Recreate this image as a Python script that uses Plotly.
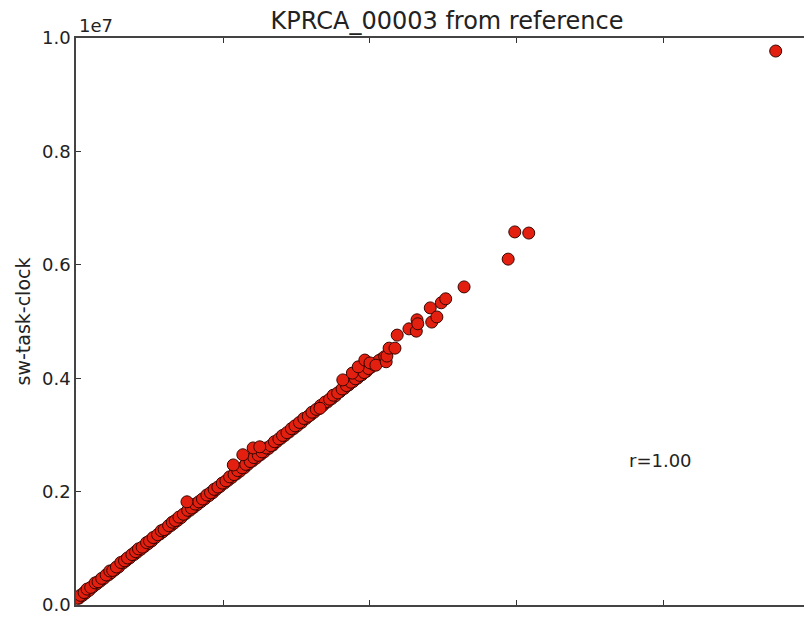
import plotly.graph_objects as go

# values in units of 1e6 (axis shows 1e7 offset)
x_vals = [0.02, 0.06, 0.11, 0.15, 0.20, 0.26, 0.30, 0.35, 0.41, 0.46, 0.50, 0.55, 0.61, 0.66, 0.70,
          0.76, 0.81, 0.85, 0.90, 0.96, 1.00, 1.05, 1.11, 1.16, 1.20, 1.26, 1.31, 1.35, 1.40, 1.46,
          1.52, 1.57, 1.62, 1.67, 1.72, 1.78, 1.83, 1.88, 1.93, 1.99, 2.04, 2.09, 2.15, 2.20, 2.26,
          2.31, 2.37, 2.42, 2.48, 2.53, 2.59, 2.65, 2.70, 2.76, 2.81, 2.87, 2.93, 2.98, 3.04, 3.10,
          3.16, 3.21, 3.27, 3.33, 3.39, 3.45, 3.50, 3.56, 3.62, 3.68, 3.74, 3.80, 3.86, 3.92, 3.98,
          4.05, 4.12, 4.20,
          1.51, 2.14, 2.27, 2.41, 2.50, 3.32, 3.63, 3.76, 3.84, 3.93, 4.00, 4.08,
          4.22, 4.23, 4.26, 4.34, 4.37, 4.53, 4.63, 4.64, 4.65, 4.82, 4.84, 4.91, 4.97, 5.03, 5.28,
          5.88, 5.97, 6.16, 9.52]
y_vals = [0.12, 0.17, 0.22, 0.28, 0.31, 0.39, 0.41, 0.47, 0.53, 0.60, 0.61, 0.67, 0.75, 0.78, 0.83,
          0.89, 0.94, 0.99, 1.02, 1.10, 1.13, 1.19, 1.24, 1.31, 1.33, 1.40, 1.46, 1.49, 1.55, 1.60,
          1.67, 1.71, 1.78, 1.82, 1.87, 1.94, 1.98, 2.04, 2.08, 2.15, 2.19, 2.26, 2.30, 2.37, 2.42,
          2.48, 2.53, 2.60, 2.64, 2.70, 2.77, 2.81, 2.88, 2.93, 2.99, 3.04, 3.11, 3.16, 3.22, 3.29,
          3.33, 3.40, 3.45, 3.52, 3.58, 3.63, 3.70, 3.74, 3.81, 3.87, 3.93, 3.99, 4.05, 4.10, 4.17,
          4.24, 4.31, 4.38,
          1.82, 2.47, 2.65, 2.77, 2.79, 3.47, 3.97, 4.09, 4.20, 4.32, 4.27, 4.23,
          4.29, 4.39, 4.53, 4.53, 4.76, 4.87, 4.83, 5.03, 4.96, 5.24, 4.99, 5.08, 5.33, 5.40, 5.61,
          6.10, 6.58, 6.56, 9.77]

# additional dense points slightly below the main band
x_dense = [0.04, 0.09, 0.13, 0.18, 0.23, 0.28, 0.33, 0.38, 0.44, 0.48,
           0.53, 0.58, 0.64, 0.68, 0.73, 0.79, 0.83, 0.88, 0.93, 0.98,
           1.03, 1.08, 1.14, 1.18, 1.23, 1.29, 1.33, 1.38, 1.43, 1.49,
           1.55, 1.60, 1.65, 1.70, 1.75, 1.81, 1.86, 1.91, 1.96, 2.02,
           2.07, 2.12, 2.18, 2.23, 2.29, 2.34, 2.40, 2.45, 2.51, 2.56,
           2.62, 2.68, 2.73, 2.79, 2.84, 2.90, 2.96, 3.01, 3.07, 3.13,
           3.19, 3.24, 3.30, 3.36, 3.42, 3.48, 3.53, 3.59, 3.65, 3.71,
           3.77, 3.83, 3.89, 3.95, 4.01, 4.09, 4.16]
y_dense = [0.12, 0.17, 0.21, 0.26, 0.32, 0.37, 0.42, 0.47, 0.53, 0.57,
           0.62, 0.67, 0.74, 0.78, 0.83, 0.89, 0.93, 0.98, 1.03, 1.08,
           1.13, 1.19, 1.25, 1.29, 1.34, 1.40, 1.44, 1.49, 1.54, 1.61,
           1.67, 1.72, 1.77, 1.82, 1.87, 1.93, 1.98, 2.04, 2.09, 2.15,
           2.20, 2.25, 2.31, 2.36, 2.42, 2.48, 2.54, 2.59, 2.65, 2.70,
           2.76, 2.82, 2.88, 2.94, 2.99, 3.05, 3.11, 3.16, 3.22, 3.29,
           3.35, 3.40, 3.46, 3.52, 3.58, 3.64, 3.69, 3.76, 3.82, 3.88,
           3.94, 4.00, 4.06, 4.12, 4.19, 4.27, 4.34]

y_tickvals = [0, 2, 4, 6, 8, 10]
y_ticktext = ["0.0", "0.2", "0.4", "0.6", "0.8", "1.0"]
x_tickvals = [0, 2, 4, 6, 8]

FONT = "DejaVu Sans"
MARKER = dict(size=12, color="#e3200f", line=dict(color="#3a0500", width=1))

fig = go.Figure()
fig.add_trace(go.Scatter(x=x_dense, y=y_dense, mode="markers", marker=MARKER,
                         showlegend=False, hoverinfo="skip"))
fig.add_trace(go.Scatter(x=x_vals, y=y_vals, mode="markers", marker=MARKER,
                         showlegend=False, hoverinfo="skip"))

fig.update_layout(
    width=804, height=617,
    margin=dict(l=76, r=0, t=38, b=12),
    paper_bgcolor="white", plot_bgcolor="white",
    font=dict(family=FONT, size=18, color="#222"),
    title=dict(text="KPRCA_00003 from reference", font=dict(family=FONT, size=24, color="#222"),
               xref="container", x=447/804, xanchor="center",
               yref="container", y=1-21/617, yanchor="middle"),
    xaxis=dict(range=[0, 9.905], tickvals=x_tickvals, showticklabels=False,
               ticks="inside", ticklen=5, tickcolor="#333", showline=True, linecolor="#444",
               linewidth=1.5, mirror="ticks", showgrid=False, zeroline=False),
    yaxis=dict(range=[0, 10], tickvals=y_tickvals, ticktext=y_ticktext,
               ticks="inside", ticklen=5, tickcolor="#333", showline=True, linecolor="#444",
               linewidth=1.5, showgrid=False, zeroline=False,
               title=dict(text="sw-task-clock", font=dict(family=FONT, size=19), standoff=6)),
)
fig.add_annotation(text="1e7", xref="paper", yref="paper", x=0.002, y=1.0, xanchor="left",
                   yanchor="bottom", showarrow=False, font=dict(family=FONT, size=18, color="#222"))
fig.add_annotation(text="r=1.00", x=7.5, y=2.54, xanchor="left", yanchor="middle",
                   showarrow=False, font=dict(family=FONT, size=18, color="#222"))

fig.write_html("out.html")
